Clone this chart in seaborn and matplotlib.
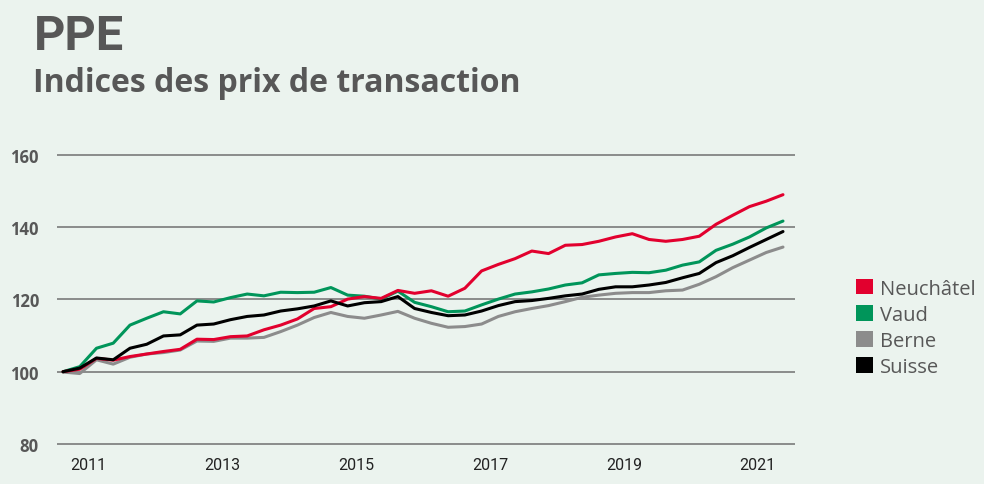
import numpy as np
import pandas as pd
import matplotlib
matplotlib.use("Agg")
import matplotlib.pyplot as plt
import seaborn as sns
from matplotlib.patches import Patch

# Trimestres de 2010 T3 à 2021 T2 (positionnés au milieu du trimestre)
start_year = 2010.625
n_quarters = 44

neuchatel = [100, 100.7, 103.7, 103.2, 104.2, 104.9, 105.6, 106.2, 109.0, 108.9,
             109.7, 109.9, 111.6, 112.9, 114.6, 117.5, 118.0, 120.1, 120.8, 120.3,
             122.5, 121.7, 122.4, 120.9, 123.1, 127.9, 129.7, 131.3, 133.4, 132.7,
             135.0, 135.2, 136.1, 137.3, 138.2, 136.6, 136.1, 136.6, 137.5, 140.8,
             143.3, 145.7, 147.2, 149.0]
vaud = [100, 101.4, 106.5, 107.9, 112.9, 114.8, 116.6, 116.0, 119.6, 119.3,
        120.5, 121.5, 121.0, 122.0, 121.9, 122.0, 123.3, 121.2, 120.9, 120.1,
        122.3, 119.2, 118.0, 116.6, 116.8, 118.5, 120.1, 121.5, 122.1, 122.9,
        124.0, 124.6, 126.8, 127.2, 127.5, 127.4, 128.1, 129.5, 130.4, 133.6,
        135.3, 137.3, 139.8, 141.7]
berne = [99.9, 99.5, 103.3, 102.1, 104.0, 104.9, 105.3, 106.0, 108.5, 108.4,
         109.3, 109.3, 109.5, 111.1, 112.9, 115.0, 116.4, 115.3, 114.8, 115.7,
         116.7, 114.8, 113.4, 112.3, 112.5, 113.2, 115.3, 116.6, 117.5, 118.3,
         119.4, 120.6, 121.2, 121.7, 121.9, 121.9, 122.4, 122.6, 124.2, 126.3,
         128.8, 130.9, 133.0, 134.5]
suisse = [100, 101.0, 103.8, 103.3, 106.5, 107.6, 109.9, 110.2, 112.9, 113.2,
          114.4, 115.3, 115.7, 116.8, 117.4, 118.2, 119.6, 118.2, 119.1, 119.4,
          120.8, 117.5, 116.4, 115.5, 115.7, 116.8, 118.3, 119.4, 119.7, 120.3,
          121.0, 121.5, 122.8, 123.5, 123.5, 124.0, 124.7, 126.0, 127.2, 130.2,
          132.1, 134.4, 136.6, 138.8]

series_names = ['Neuchâtel', 'Vaud', 'Berne', 'Suisse']
series_colors = ['#E2002E', '#00955A', '#8C8C8C', '#000000']
year_ticks = [2011, 2013, 2015, 2017, 2019, 2021]
y_ticks = [80, 100, 120, 140, 160]

bg = '#EBF3EE'
text_grey = '#575757'

# Tableau long pour seaborn
quarters = start_year + 0.25 * np.arange(n_quarters)
df = pd.DataFrame({
    'date': np.tile(quarters, 4),
    'indice': np.concatenate([neuchatel, vaud, berne, suisse]),
    'region': np.repeat(series_names, n_quarters),
})

sns.set_style('white')
plt.rcParams['font.family'] = ['Open Sans', 'DejaVu Sans']

fig = plt.figure(figsize=(9.84, 4.85), dpi=100, facecolor=bg)
ax = fig.add_axes([0.0579, 0.0788, 0.750, 0.6034], facecolor=bg)

# Lignes de grille horizontales
for yv in y_ticks:
    ax.axhline(yv, color='#7A7A7A', lw=1.2, zorder=1)

sns.lineplot(data=df, x='date', y='indice', hue='region', hue_order=series_names,
             palette=dict(zip(series_names, series_colors)), lw=2.2,
             legend=False, ax=ax, zorder=3)
for line, z in zip(ax.lines[len(y_ticks):], [4, 3, 2, 5]):
    line.set_zorder(z)

ax.set_xlim(2010.535, 2021.554)
ax.set_ylim(79.5, 160.5)
ax.set_xticks(year_ticks)
ax.set_xticklabels([str(y) for y in year_ticks], color='#222222',
                   family=['Roboto', 'DejaVu Sans'], fontsize=11.5)
ax.set_yticks(y_ticks)
ax.set_yticklabels([str(y) for y in y_ticks], fontsize=12, color=text_grey,
                   fontweight='bold')
ax.tick_params(axis='both', length=0)
ax.tick_params(axis='y', pad=13)
ax.tick_params(axis='x', pad=8)
ax.set_xlabel('')
ax.set_ylabel('')
sns.despine(ax=ax, left=True, bottom=True)

# Légende
handles = [Patch(facecolor=c, edgecolor='none') for c in series_colors]
leg = fig.legend(handles, series_names, loc='center left',
                 bbox_to_anchor=(0.852, 0.322), frameon=False,
                 fontsize=14.5, handlelength=0.8, handleheight=0.8,
                 handletextpad=0.35, labelspacing=0.3, labelcolor=text_grey)

# Titres
fig.text(0.034, 0.972, 'PPE', family=['Roboto', 'DejaVu Sans'], fontweight='bold',
         fontsize=35, color=text_grey, va='top', ha='left')
fig.text(0.034, 0.81, 'Indices des prix de transaction', fontsize=23,
         fontweight='bold', color=text_grey, va='baseline', ha='left')

fig.savefig('out.png', dpi=100, facecolor=bg)
